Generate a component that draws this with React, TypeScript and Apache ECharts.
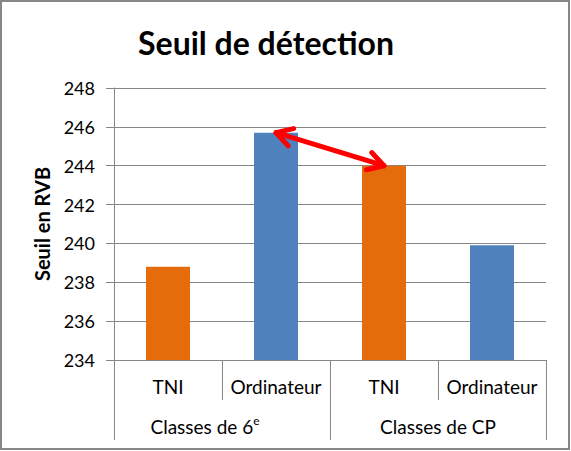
import * as echarts from 'echarts';
import { useEffect, useRef } from 'react';

// Données du graphique
const categories = ['TNI', 'Ordinateur', 'TNI', 'Ordinateur'];
const groups = ['Classes de 6e', 'Classes de CP'];
const values = [238.8, 245.7, 244.0, 239.9];
const barColors = ['#E46C0A', '#4F81BD', '#E46C0A', '#4F81BD'];
// flèche : de la barre 2 à la barre 3
const arrowFrom = [1, 245.7];
const arrowTo = [2, 244.0];

const FONT = 'Lato, "Open Sans", sans-serif';
const GRID_COLOR = '#878787';

const getChartOptions = (): echarts.EChartsOption => ({
  animation: false,
  backgroundColor: '#fff',
  title: {
    text: 'Seuil de détection',
    left: 261,
    top: 21,
    textAlign: 'center',
    textStyle: { fontFamily: FONT, fontSize: 32, fontWeight: 'bold', color: '#000' },
  },
  graphic: [
    {
      type: 'rect',
      shape: { x: 1, y: 1, width: 568, height: 448 },
      style: { fill: 'none', stroke: GRID_COLOR, lineWidth: 2 },
      silent: true,
    },
  ],
  grid: { left: 114, right: 25, top: 88, bottom: 91, containLabel: false },
  xAxis: [
    {
      type: 'category',
      data: categories,
      position: 'bottom',
      axisLine: { lineStyle: { color: GRID_COLOR, width: 1 } },
      axisTick: { show: true, length: 40, interval: 0, lineStyle: { color: GRID_COLOR } },
      axisLabel: { fontFamily: FONT, fontSize: 19, color: '#000', margin: 17, interval: 0 },
    },
    {
      type: 'category',
      data: groups,
      position: 'bottom',
      axisLine: { lineStyle: { color: GRID_COLOR, width: 1 } },
      axisTick: { show: true, length: 80, interval: 0, lineStyle: { color: GRID_COLOR } },
      axisLabel: {
        interval: 0,
        margin: 54,
        color: '#000',
        formatter: (v: string) =>
          v.endsWith('6e')
            ? '{n|' + v.slice(0, -1) + '}{sup|e}{pad|}'
            : '{n|' + v + '}',
        rich: {
          n: { fontFamily: FONT, fontSize: 19, color: '#000', lineHeight: 22, verticalAlign: 'bottom' },
          sup: { fontFamily: FONT, fontSize: 12, color: '#000', lineHeight: 14, verticalAlign: 'top' },
          pad: { width: 34, fontSize: 19, lineHeight: 22 },
        },
      },
    },
  ],
  yAxis: {
    type: 'value',
    min: 234,
    max: 248,
    interval: 2,
    name: 'Seuil en RVB',
    nameLocation: 'middle',
    nameGap: 62,
    nameRotate: 90,
    nameTextStyle: { fontFamily: FONT, fontSize: 20, fontWeight: 'bold', color: '#000' },
    axisLine: { show: true, lineStyle: { color: GRID_COLOR } },
    axisTick: { show: true, length: 8, lineStyle: { color: GRID_COLOR } },
    axisLabel: { fontFamily: FONT, fontSize: 18, color: '#000', margin: 19 },
    splitLine: { lineStyle: { color: GRID_COLOR, width: 1 } },
  },
  series: [
    {
      type: 'bar',
      xAxisIndex: 0,
      barWidth: 44,
      data: values.map((v, i) => ({ value: v, itemStyle: { color: barColors[i] } })),
    },
    {
      type: 'custom',
      xAxisIndex: 0,
      data: [[arrowFrom[0], arrowFrom[1], arrowTo[0], arrowTo[1]]],
      encode: { x: [0, 2], y: [1, 3] },
      renderItem: (_params: any, api: any) => {
        const p1 = api.coord([api.value(0), api.value(1)]);
        const p2 = api.coord([api.value(2), api.value(3)]);
        const ang = Math.atan2(p2[1] - p1[1], p2[0] - p1[0]);
        const len = 18;
        const spread = Math.PI / 6;
        const head = (p: number[], a: number) => [
          [p[0] + len * Math.cos(a + spread), p[1] + len * Math.sin(a + spread)],
          p,
          [p[0] + len * Math.cos(a - spread), p[1] + len * Math.sin(a - spread)],
        ];
        const style = { stroke: '#FF0000', lineWidth: 5, fill: 'none', lineCap: 'round', lineJoin: 'round' };
        return {
          type: 'group',
          children: [
            { type: 'line', shape: { x1: p1[0], y1: p1[1], x2: p2[0], y2: p2[1] }, style },
            { type: 'polyline', shape: { points: head(p1, ang) }, style },
            { type: 'polyline', shape: { points: head(p2, ang + Math.PI) }, style },
          ],
        };
      },
      z: 10,
    },
  ],
});

export default function App() {
  const chartRef = useRef<HTMLDivElement>(null);

  useEffect(() => {
    if (!chartRef.current) return;
    const chart = echarts.init(chartRef.current, undefined, { renderer: 'svg' });
    chart.setOption(getChartOptions());
    return () => {
      chart.dispose();
    };
  }, []);

  return (
    <div
      ref={chartRef}
      style={{ position: 'fixed', left: 0, top: 0, width: 571, height: 451, background: '#fff' }}
    />
  );
}
